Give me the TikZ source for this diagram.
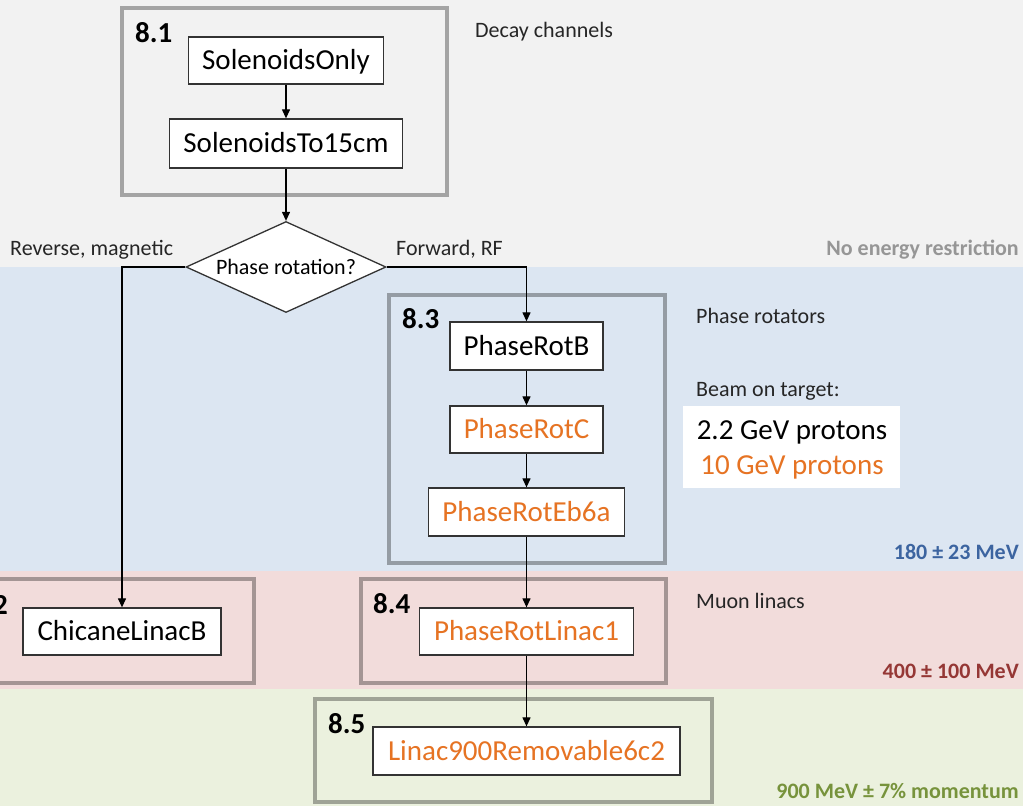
\documentclass[tikz,border=0pt]{standalone}
\usepackage{fontspec}
\setmainfont{Carlito}
\usetikzlibrary{shapes.geometric,arrows.meta}
\definecolor{bggrey}{HTML}{F2F2F2}
\definecolor{bgblue}{HTML}{DCE6F2}
\definecolor{bgpink}{HTML}{F2DCDB}
\definecolor{bggreen}{HTML}{EBF1DE}
\definecolor{orangetxt}{RGB}{230,115,35}
\definecolor{bluetxt}{RGB}{60,100,160}
\definecolor{redtxt}{RGB}{149,55,53}
\definecolor{greentxt}{RGB}{119,147,60}
\definecolor{greytxt}{RGB}{150,150,150}
\begin{document}
\begin{tikzpicture}[x=1pt,y=-1pt,
  stepbox/.style={draw=black!80, line width=1.3pt, fill=white, inner sep=0pt,
    font=\fontsize{29}{34}\selectfont, text height=18.7pt, text depth=0pt},
  decision/.style={diamond, draw=black!80, line width=1.3pt, fill=white, aspect=2.2,
    minimum width=200pt, minimum height=91pt, inner sep=0pt,
    font=\fontsize{22}{26}\selectfont, text height=14.2pt, text depth=0pt},
  grp/.style={draw=black, draw opacity=0.32, line width=4.5pt},
  numlbl/.style={inner sep=0pt, font=\bfseries\fontsize{29}{34}\selectfont, text height=18.7pt, text depth=0pt},
  lbl/.style={inner sep=0pt, font=\fontsize{22}{26}\selectfont, text height=14.2pt, text depth=0pt, text=black!85},
  rlbl/.style={inner sep=0pt, font=\bfseries\fontsize{22}{26}\selectfont, text height=14.2pt, text depth=0pt, anchor=east},
  beam/.style={inner sep=0pt, font=\fontsize{29}{34}\selectfont, text height=18.7pt, text depth=0pt},
  conn/.style={draw=black, line width=1.2pt, -{Triangle[length=9pt,width=8pt]}}
]
\useasboundingbox (0,0) rectangle (1023,806);
\clip (0,0) rectangle (1023,806);
% background bands
\fill[bggrey] (0,0) rectangle (1023,267);
\fill[bgblue] (0,267) rectangle (1023,571);
\fill[bgpink] (0,571) rectangle (1023,689);
\fill[bggreen] (0,689) rectangle (1023,806);
% group frames
\draw[grp] (122,8) rectangle (447,195);
\draw[grp] (389,295) rectangle (665,563);
\draw[grp] (-20,579) rectangle (254,683);
\draw[grp] (361,579) rectangle (666,683);
\draw[grp] (315,699) rectangle (712,802);
% group numbers
\node[numlbl, anchor=west] (n81) at (135,33) {8.1};
\node[numlbl, anchor=west] (n83) at (402,319) {8.3};
\node[numlbl, anchor=east] (n82) at (8,605) {8.2};
\node[numlbl, anchor=west] (n84) at (373,604) {8.4};
\node[numlbl, anchor=west] (n85) at (328,724) {8.5};
% step boxes
\node[stepbox, minimum width=195pt, minimum height=47pt] (so) at (286,60.5) {SolenoidsOnly};
\node[stepbox, minimum width=233pt, minimum height=49pt] (s15) at (286,143.5) {SolenoidsTo15cm};
\node[decision] (dec) at (286,267) {Phase rotation?};
\node[stepbox, minimum width=198pt, minimum height=47pt] (chic) at (122,631.5) {ChicaneLinacB};
\node[stepbox, minimum width=153pt, minimum height=48pt] (prb) at (526.5,346) {PhaseRotB};
\node[stepbox, minimum width=153pt, minimum height=47pt, text=orangetxt] (prc) at (526.5,429.5) {PhaseRotC};
\node[stepbox, minimum width=196pt, minimum height=48pt, text=orangetxt] (pre) at (526.5,512) {PhaseRotEb6a};
\node[stepbox, minimum width=214pt, minimum height=47pt, text=orangetxt] (prl) at (526.5,631.5) {PhaseRotLinac1};
\node[stepbox, minimum width=307pt, minimum height=48pt, text=orangetxt] (lin) at (526.5,751) {Linac900Removable6c2};
% connectors
\draw[conn] (so) -- (s15);
\draw[conn] (s15) -- (dec);
\draw[conn] (dec.west) -| (chic.north);
\draw[conn] (dec.east) -| (prb.north);
\draw[conn] (prb) -- (prc);
\draw[conn] (prc) -- (pre);
\draw[conn] (pre) -- (prl);
\draw[conn] (prl) -- (lin);
% branch labels
\node[lbl, anchor=west] (rev) at (10,248) {Reverse, magnetic};
\node[lbl, anchor=west] (fwd) at (396,248) {Forward, RF};
% side labels
\node[lbl, anchor=west] (dc) at (475,30) {Decay channels};
\node[lbl, anchor=west] (pr) at (696,316) {Phase rotators};
\node[lbl, anchor=west] (bt) at (696,389) {Beam on target:};
\node[lbl, anchor=west] (ml) at (696,601) {Muon linacs};
\fill[white] (683,406) rectangle (900,488);
\node[beam] (b22) at (792,430) {2.2 GeV protons};
\node[beam, text=orangetxt] (b10) at (792,465) {10 GeV protons};
% energy labels
\node[rlbl, text=greytxt] (e0) at (1019,248) {No energy restriction};
\node[rlbl, text=bluetxt] (e1) at (1019,552) {180 ± 23 MeV};
\node[rlbl, text=redtxt] (e2) at (1019,671) {400 ± 100 MeV};
\node[rlbl, text=greentxt] (e3) at (1019,791) {900 MeV ± 7\% momentum};
\end{tikzpicture}
\end{document}
